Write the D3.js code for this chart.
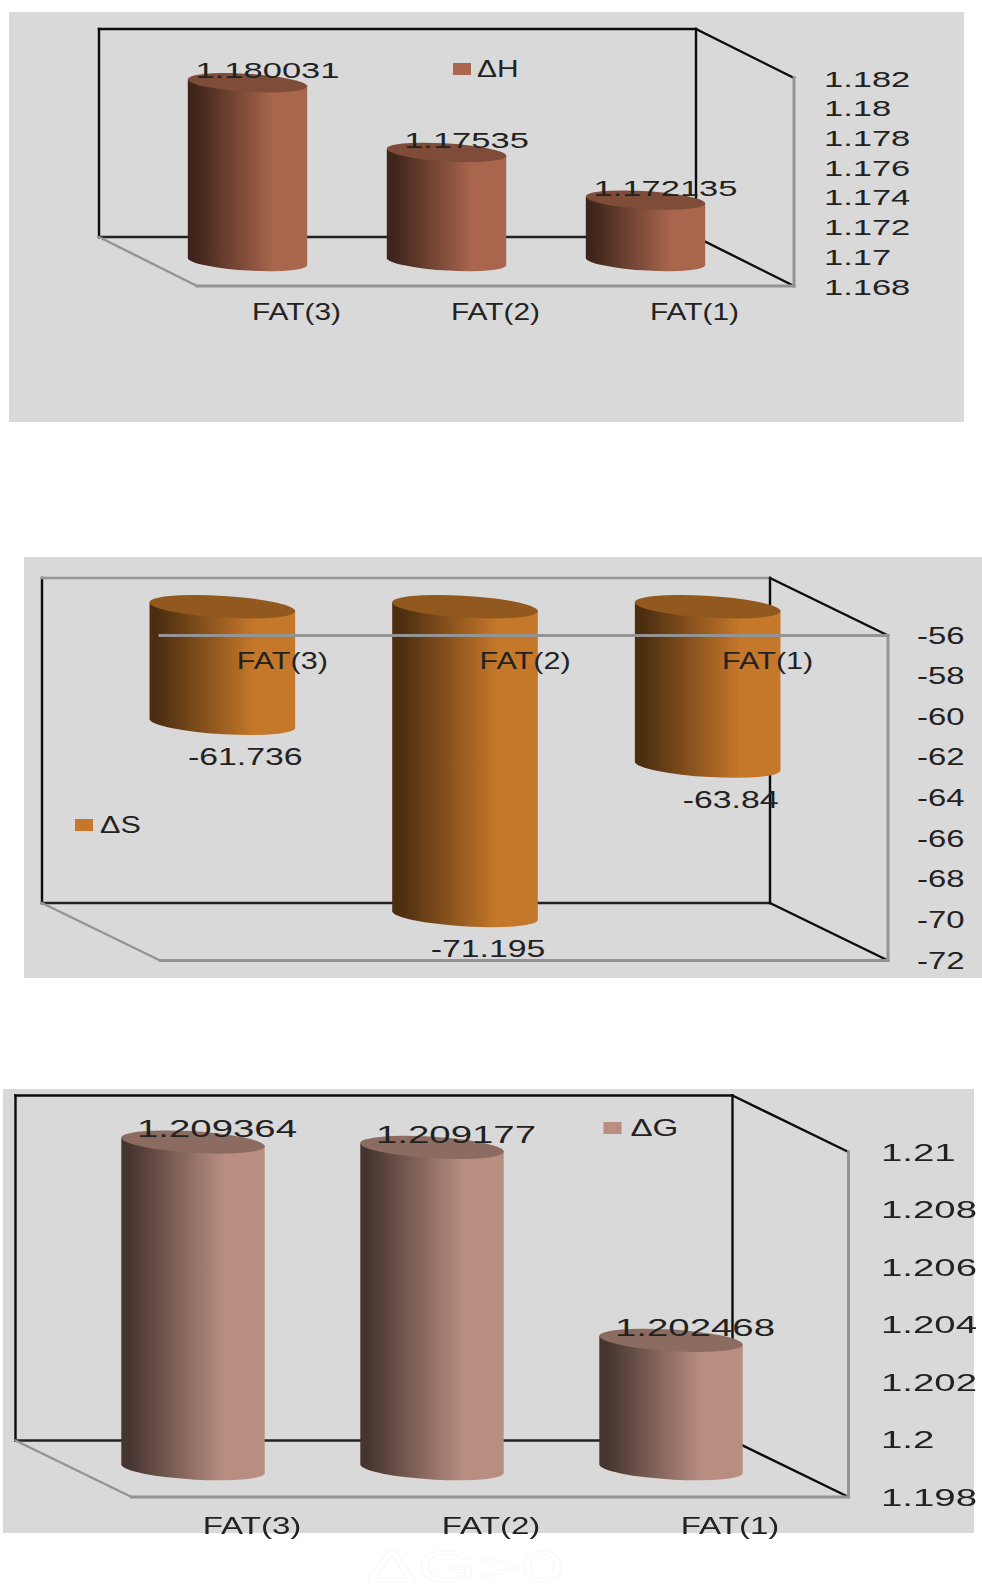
<!DOCTYPE html>
<html>
<head>
<meta charset="utf-8">
<script src="https://d3js.org/d3.v7.min.js"></script>
<style>
  html, body { margin: 0; padding: 0; background: #fff; }
  svg { display: block; filter: blur(0.55px); }
  text { font-family: "Liberation Sans", Arial, sans-serif; fill: #222; }
</style>
</head>
<body>
<svg id="chart" width="982" height="1594"></svg>
<script>
// values
const categories = ["FAT(3)", "FAT(2)", "FAT(1)"];

const valuesH = [1.180031, 1.17535, 1.172135];
const valuesS = [-61.736, -71.195, -63.84];
const valuesG = [1.209364, 1.209177, 1.202468];

const ticksH = [1.182, 1.18, 1.178, 1.176, 1.174, 1.172, 1.17, 1.168];
const ticksS = [-56, -58, -60, -62, -64, -66, -68, -70, -72];
const ticksG = [1.21, 1.208, 1.206, 1.204, 1.202, 1.2, 1.198];

const svg = d3.select("#chart");
const defs = svg.append("defs");

function gradient(id, dark, light) {
    const g = defs.append("linearGradient").attr("id", id);
    g.append("stop").attr("offset", "0").attr("stop-color", dark);
    g.append("stop").attr("offset", "0.05").attr("stop-color", dark);
    g.append("stop").attr("offset", "0.72").attr("stop-color", light);
    g.append("stop").attr("offset", "1").attr("stop-color", light);
}

function drawChart(o) {
    const g = svg.append("g");

    // grey panel
    g.append("rect")
        .attr("x", o.panel[0]).attr("y", o.panel[1])
        .attr("width", o.panel[2] - o.panel[0])
        .attr("height", o.panel[3] - o.panel[1])
        .attr("fill", "#d9d9d9");

    // scales live on the front plane of the 3D box
    const x = d3.scaleBand().domain(o.categories).range([o.front.x0, o.front.x1]);
    const y = d3.scaleLinear().domain(o.domain).range([o.front.y1, o.front.y0]);
    const dx = o.depth[0], dy = o.depth[1];
    const { x0, x1, y0, y1 } = o.front;

    const line = (ax, ay, bx, by, color, w) => g.append("line")
        .attr("x1", ax).attr("y1", ay).attr("x2", bx).attr("y2", by)
        .attr("stroke", color).attr("stroke-width", w || 2.4)
        .attr("stroke-linecap", "square");

    // back wall
    const black = "#0c0c0c", grey = "#949494";
    line(x0 - dx, y0 - dy, x0 - dx, y1 - dy, black);
    line(x1 - dx, y0 - dy, x1 - dx, y1 - dy, black);
    line(x0 - dx, y0 - dy, x1 - dx, y0 - dy, o.topGrey ? grey : black);
    line(x0 - dx, y1 - dy, x1 - dx, y1 - dy, "#222");
    // side and floor
    line(x1 - dx, y0 - dy, x1, y0, black);
    line(x1 - dx, y1 - dy, x1, y1, black);
    line(x0 - dx, y1 - dy, x0, y1, grey);
    line(x0, y1, x1, y1, grey, 3);
    line(x1, y0, x1, y1, grey, 3);

    // cylinders
    const bw = x.bandwidth() * 0.6;
    const rx = bw / 2, ry = rx * 0.15, tilt = rx * 0.055, rot = 3.5;
    const base = o.hanging ? o.domain[1] : o.domain[0];

    o.values.forEach((v, i) => {
        const cx = x(o.categories[i]) + x.bandwidth() / 2 - dx / 2;
        const a = Math.min(y(v), y(base)) - dy / 2;
        const b = Math.max(y(v), y(base)) - dy / 2;
        const arc = `A${rx} ${ry} ${rot} 0 `;

        g.append("path")
            .attr("d", `M${cx - rx} ${a - tilt}L${cx - rx} ${b - tilt}${arc}0 ${cx + rx} ${b + tilt}L${cx + rx} ${a + tilt}Z`)
            .attr("fill", `url(#${o.grad})`);
        g.append("path")
            .attr("d", `M${cx - rx} ${a - tilt}${arc}1 ${cx + rx} ${a + tilt}${arc}1 ${cx - rx} ${a - tilt}Z`)
            .attr("fill", o.topColor);
    });

    // the category axis line crosses in front of the bars when values are negative
    if (o.hanging) line(x0, y0, x1, y0, grey, 3);

    // value labels
    o.values.forEach((v, i) => {
        const cx = x(o.categories[i]) + x.bandwidth() / 2 - dx / 2;
        const ly = y(v) - dy / 2 + o.labelOffset[1];
        g.append("text")
            .attr("transform", `translate(${cx + o.labelOffset[0]},${ly}) scale(${o.sxValue},1)`)
            .attr("dy", "0.35em")
            .attr("text-anchor", "middle")
            .attr("font-size", o.fontSize)
            .text(v);
    });

    // value axis, no line, only the labels
    const yAxis = g.append("g")
        .attr("transform", `translate(${o.tickX},0)`)
        .call(d3.axisRight(y).tickValues(o.ticks).tickSize(0).tickFormat(d => d));
    yAxis.select(".domain").remove();
    yAxis.selectAll("text")
        .attr("x", 0)
        .attr("dy", o.tickDy)
        .attr("transform", `scale(${o.sxTick},1)`)
        .attr("font-size", o.fontSize)
        .attr("font-family", null)
        .attr("fill", null);

    // category axis
    const xAxis = g.append("g")
        .attr("transform", `translate(0,${o.catY})`)
        .call(d3.axisBottom(x).tickSize(0));
    xAxis.select(".domain").remove();
    xAxis.selectAll("text")
        .attr("y", 0)
        .attr("dy", "0.35em")
        .attr("transform", `translate(${o.catShift || 0},0) scale(${o.sxCat},1)`)
        .attr("font-size", o.fontSize)
        .attr("fill", null);

    // legend
    g.append("rect")
        .attr("x", o.legend.x).attr("y", o.legend.y - 6)
        .attr("width", 18).attr("height", 12)
        .attr("fill", o.legend.color);
    g.append("text")
        .attr("transform", `translate(${o.legend.x + o.legend.gap},${o.legend.y}) scale(${o.sxCat},1)`)
        .attr("dy", "0.35em")
        .attr("font-size", o.fontSize)
        .text(o.legend.label);
}

gradient("gradH", "#3e241a", "#a9664d");
gradient("gradS", "#4b2d10", "#c5772a");
gradient("gradG", "#45342f", "#b98e81");

drawChart({
    categories, values: valuesH, ticks: ticksH, domain: [1.168, 1.182],
    panel: [9, 12, 964, 422],
    front: { x0: 197, x1: 794, y0: 78, y1: 286 },
    depth: [98, 49],
    grad: "gradH", topColor: "#7e4c39",
    sxValue: 1.5, sxTick: 1.5, sxCat: 1.3, fontSize: 23, tickDy: "0.35em",
    tickX: 824, catY: 312, labelOffset: [20, -12.5],
    legend: { x: 453, y: 69, gap: 24, color: "#a9664d", label: "ΔH" }
});

drawChart({
    categories, values: valuesS, ticks: ticksS, domain: [-72, -56],
    panel: [24, 557, 982, 978],
    front: { x0: 160, x1: 888, y0: 635.5, y1: 960.5 },
    depth: [118, 57.5],
    grad: "gradS", topColor: "#92591e",
    sxValue: 1.47, sxTick: 1.43, sxCat: 1.33, fontSize: 23, tickDy: "0.33em",
    hanging: true, topGrey: true,
    tickX: 917, catY: 661, catShift: 1, labelOffset: [23, 34],
    legend: { x: 75, y: 825, gap: 25, color: "#c8762a", label: "ΔS" }
});

drawChart({
    categories, values: valuesG, ticks: ticksG, domain: [1.198, 1.21],
    panel: [3, 1089, 974, 1533],
    front: { x0: 131.5, x1: 848.5, y0: 1152, y1: 1497 },
    depth: [116, 56.5],
    grad: "gradG", topColor: "#8c6b61",
    sxValue: 1.6, sxTick: 1.6, sxCat: 1.38, fontSize: 24, tickDy: "0.35em",
    tickX: 881, catY: 1526, catShift: 1, labelOffset: [24, -13],
    legend: { x: 603.5, y: 1128, gap: 27, color: "#bb8e81", label: "ΔG" }
});

// faint outlined watermark under the last chart
svg.append("text")
    .attr("transform", "translate(366,1582) scale(1.74,1)")
    .attr("font-size", 44)
    .style("fill", "none")
    .attr("stroke", "#f8f8f8")
    .attr("stroke-width", 1)
    .text("ΔG>0");
</script>
</body>
</html>
